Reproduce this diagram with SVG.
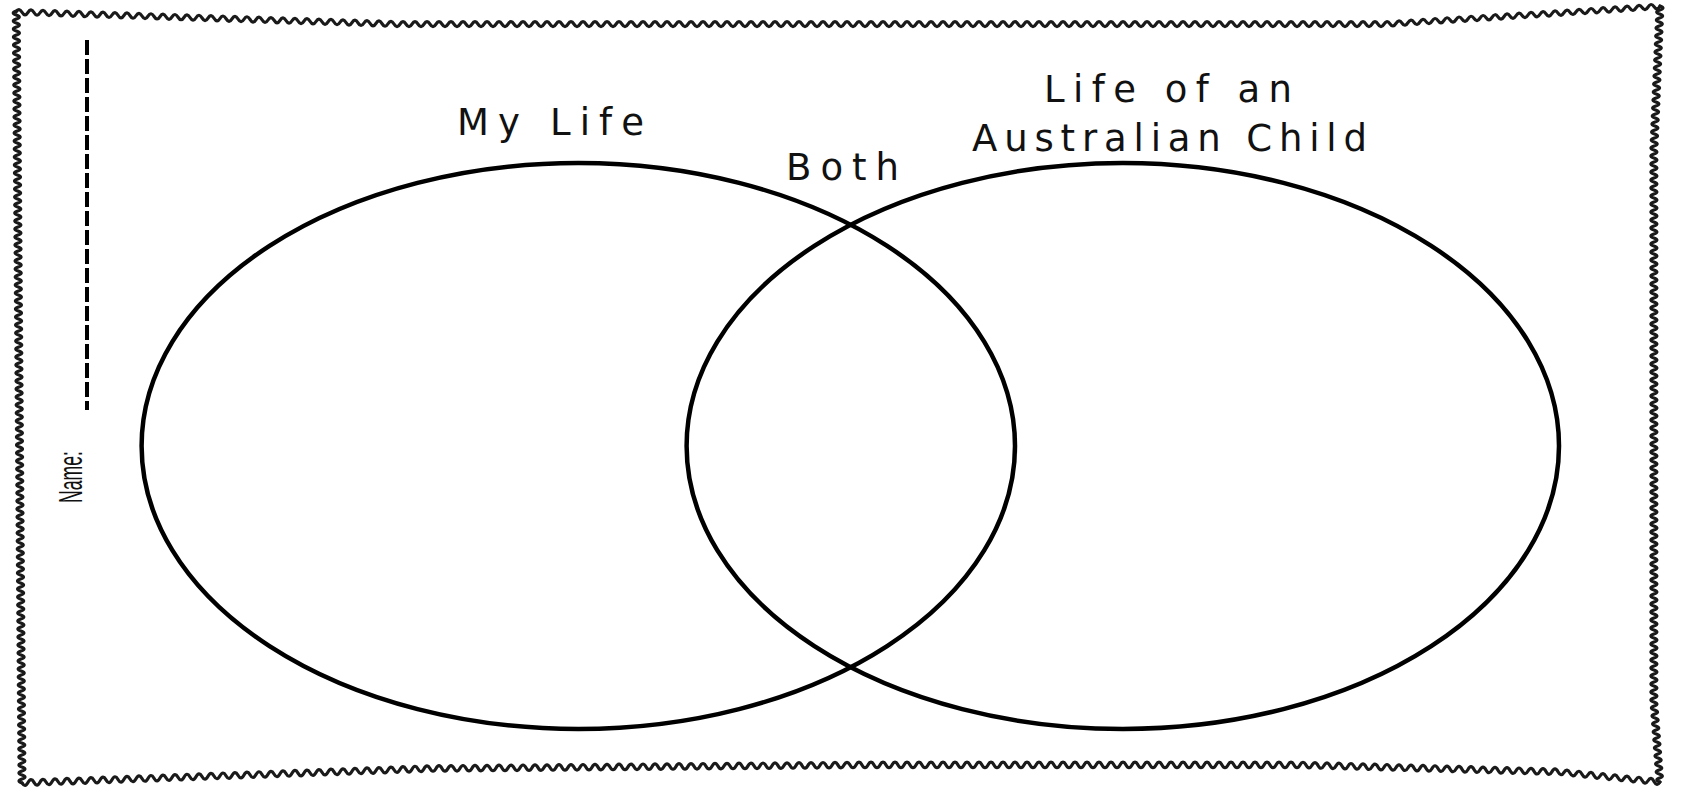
<svg xmlns="http://www.w3.org/2000/svg" width="1688" height="795" viewBox="0 0 1688 795">
<style>
.frame{fill:none;stroke:#1a1a1a;stroke-width:3.2;stroke-linejoin:round;stroke-linecap:round}
.ring{fill:none;stroke:#000;stroke-width:4.5}
.lbl{font-family:"DejaVu Sans","Noto Sans",sans-serif;font-size:37px;fill:#111}
.name{font-family:"Liberation Sans",Arial,sans-serif;font-size:34px;fill:#111}
</style>
<rect width="1688" height="795" fill="#fff"/>
<g id="frame">
<path class="frame" d="M16,12 q3,-5 6,.19 t
6,.19 6,.19 6,.19 6,.19 6,.19 6,.19 6,.19 6,.19 6,.19 6,.19
6,.19 6,.19 6,.19 6,.19 6,.19 6,.19 6,.19 6,.19 6,.19 6,.19
6,.19 6,.19 6,.19 6,.19 6,.19 6,.19 6,.19 6,.19 6,.19 6,.19
6,.19 6,.19 6,.19 6,.19 6,.19 6,.19 6,.19 6,.19 6,.19 6,.19
6,.19 6,.19 6,.19 6,.19 6,.19 6,.19 6,.19 6,.19 6,.19 6,.19
6,.19 6,.19 6,.19 6,.19 6,.19 6,.19 6,.19 6,.19 6,.19 6,.19
6,.19 6,.19 6,.19
6,0 6,0 6,0 6,0 6,0 6,0 6,0 6,0 6,0 6,0
6,0 6,0 6,0 6,0 6,0 6,0 6,0 6,0 6,0 6,0
6,0 6,0 6,0 6,0 6,0 6,0 6,0 6,0 6,0 6,0
6,0 6,0 6,0 6,0 6,0 6,0 6,0 6,0 6,0 6,0
6,0 6,0 6,0 6,0 6,0 6,0 6,0 6,0 6,0 6,0
6,0 6,0 6,0 6,0 6,0 6,0 6,0 6,0 6,0 6,0
6,0 6,0 6,0 6,0 6,0 6,0 6,0 6,0 6,0 6,0
6,0 6,0 6,0 6,0 6,0 6,0 6,0 6,0 6,0 6,0
6,0 6,0 6,0 6,0 6,0 6,0 6,0 6,0 6,0 6,0
6,0 6,0 6,0 6,0 6,0 6,0 6,0 6,0 6,0 6,0
6,0 6,0 6,0 6,0 6,0 6,0 6,0 6,0 6,0 6,0
6,0 6,0 6,0 6,0 6,0 6,0 6,0 6,0 6,0 6,0
6,0 6,0 6,0 6,0 6,0 6,0 6,0 6,0 6,0 6,0
6,0 6,0 6,0 6,0 6,0 6,0 6,0 6,0 6,0 6,0
6,0 6,0 6,0 6,0 6,0 6,0 6,0 6,0 6,0 6,0
6,0 6,0 6,0 6,0 6,0 6,0 6,0 6,0 6,0 6,0
6,0 6,0 6,0 6,0
6,-.38 6,-.38 6,-.38 6,-.38 6,-.38 6,-.38 6,-.38 6,-.38 6,-.38 6,-.38
6,-.38 6,-.38 6,-.38 6,-.38 6,-.38 6,-.38 6,-.38 6,-.38 6,-.38 6,-.38
6,-.38 6,-.38 6,-.38 6,-.38 6,-.38 6,-.38
6,-.4 6,-.4 6,-.4 6,-.4 6,-.4 6,-.4 6,-.4 6,-.4 6,-.4 6,-.4
6,-.4 6,-.4 6,-.4 6,-.4 6,-.4 6,-.4 6,-.4 6,-.4 6,-.4 6,-.4"/>
<path class="frame" d="M1660,6 q6,2 -.17,4 t
-.17,4 -.17,4 -.17,4 -.17,4 -.17,4 -.17,4 -.17,4 -.17,4 -.17,4 -.17,4
-.17,4 -.17,4 -.17,4 -.17,4 -.17,4 -.17,4 -.17,4 -.17,4 -.17,4 -.17,4
-.17,4 -.17,4 -.17,4 -.17,4 -.17,4 -.17,4 -.17,4 -.17,4 -.17,4 -.17,4
-.17,4 -.17,4 -.17,4 -.17,4 -.17,4
0,4 0,4 0,4 0,4 0,4 0,4 0,4 0,4 0,4 0,4
0,4 0,4 0,4 0,4 0,4 0,4 0,4 0,4 0,4 0,4
0,4 0,4 0,4 0,4 0,4 0,4 0,4 0,4 0,4 0,4
0,4 0,4 0,4 0,4 0,4 0,4 0,4 0,4 0,4 0,4
0,4 0,4 0,4 0,4 0,4 0,4 0,4 0,4 0,4 0,4
0,4 0,4 0,4 0,4 0,4 0,4 0,4 0,4 0,4 0,4
0,4 0,4 0,4 0,4 0,4 0,4 0,4 0,4 0,4 0,4
0,4 0,4 0,4 0,4 0,4 0,4 0,4 0,4 0,4 0,4
0,4 0,4 0,4 0,4 0,4 0,4 0,4 0,4 0,4 0,4
0,4 0,4 0,4 0,4 0,4 0,4 0,4 0,4 0,4 0,4
0,4 0,4 0,4 0,4 0,4 0,4 0,4 0,4 0,4 0,4
0,4 0,4 0,4 0,4 0,4 0,4 0,4 0,4 0,4 0,4
0,4 0,4 0,4 0,4 0,4 0,4 0,4 0,4 0,4 0,4
0,4 0,4 0,4 0,4 0,4 0,4 0,4 0,4
.3,4 .3,4 .3,4 .3,4 .3,4 .3,4 .3,4 .3,4 .3,4 .3,4
.3,4 .3,4 .3,4 .3,4 .3,4 .3,4 .3,4 .3,4 .3,4 .3,4"/>
<path class="frame" d="M1660,782 q-3,5 -6,-.6 t
-6,-.6 -6,-.6 -6,-.6 -6,-.6 -6,-.6 -6,-.6 -6,-.6 -6,-.6 -6,-.6 -6,-.6
-6,-.6 -6,-.6 -6,-.6 -6,-.6 -6,-.6 -6,-.6
-6,-.16 -6,-.16 -6,-.16 -6,-.16 -6,-.16 -6,-.16 -6,-.16 -6,-.16 -6,-.16 -6,-.16
-6,-.16 -6,-.16 -6,-.16 -6,-.16 -6,-.16 -6,-.16 -6,-.16 -6,-.16 -6,-.16 -6,-.16
-6,-.16 -6,-.16 -6,-.16 -6,-.16 -6,-.16 -6,-.16 -6,-.16 -6,-.16 -6,-.16 -6,-.16
-6,-.16 -6,-.16 -6,-.16 -6,-.16 -6,-.16 -6,-.16 -6,-.16 -6,-.16 -6,-.16 -6,-.16
-6,-.16 -6,-.16 -6,-.16
-6,0 -6,0 -6,0 -6,0 -6,0 -6,0 -6,0 -6,0 -6,0 -6,0
-6,0 -6,0 -6,0 -6,0 -6,0 -6,0 -6,0 -6,0 -6,0 -6,0
-6,0 -6,0 -6,0 -6,0 -6,0 -6,0 -6,0 -6,0 -6,0 -6,0
-6,0 -6,0 -6,0 -6,0 -6,0 -6,0 -6,0 -6,0 -6,0 -6,0
-6,0 -6,0 -6,0 -6,0 -6,0 -6,0 -6,0 -6,0 -6,0 -6,0
-6,0 -6,0 -6,0 -6,0 -6,0 -6,0 -6,0 -6,0 -6,0 -6,0
-6,0 -6,0 -6,0 -6,0 -6,0 -6,0 -6,0 -6,0 -6,0 -6,0
-6,0 -6,0 -6,0
-6,.05 -6,.05 -6,.05 -6,.05 -6,.05 -6,.05 -6,.05 -6,.05 -6,.05 -6,.05
-6,.05 -6,.05 -6,.05 -6,.05 -6,.05 -6,.05 -6,.05 -6,.05 -6,.05 -6,.05
-6,.05 -6,.05 -6,.05 -6,.05 -6,.05 -6,.05 -6,.05 -6,.05 -6,.05 -6,.05
-6,.05 -6,.05 -6,.05 -6,.05 -6,.05 -6,.05 -6,.05 -6,.05 -6,.05 -6,.05
-6,.05 -6,.05 -6,.05 -6,.05 -6,.05 -6,.05 -6,.05 -6,.05 -6,.05 -6,.05
-6,.05 -6,.05 -6,.05 -6,.05 -6,.05 -6,.05 -6,.05 -6,.05 -6,.05 -6,.05
-6,.05 -6,.05 -6,.05 -6,.05 -6,.05 -6,.05 -6,.05 -6,.05 -6,.05 -6,.05
-6,.05 -6,.05
-6,.21 -6,.21 -6,.21 -6,.21 -6,.21 -6,.21 -6,.21 -6,.21 -6,.21 -6,.21
-6,.21 -6,.21 -6,.21 -6,.21 -6,.21 -6,.21 -6,.21 -6,.21 -6,.21 -6,.21
-6,.21 -6,.21 -6,.21 -6,.21 -6,.21 -6,.21 -6,.21 -6,.21 -6,.21 -6,.21
-6,.21 -6,.21 -6,.21 -6,.21 -6,.21 -6,.21 -6,.21 -6,.21 -6,.21 -6,.21
-6,.21 -6,.21 -6,.21 -6,.21 -6,.21 -6,.21 -6,.21 -6,.21 -6,.21 -6,.21
-6,.21 -6,.21 -6,.21 -6,.21 -6,.21 -6,.21 -6,.21 -6,.21 -6,.21 -6,.21
-6,.21 -6,.21 -6,.21 -6,.21 -6,.21 -6,.21 -6,.21 -6,.21"/>
<path class="frame" d="M22,783 q-6,-2 0,-4 t
-.03,-4 -.03,-4 -.03,-4 -.03,-4 -.03,-4 -.03,-4 -.03,-4 -.03,-4 -.03,-4 -.03,-4
-.03,-4 -.03,-4 -.03,-4 -.03,-4 -.03,-4 -.03,-4 -.03,-4 -.03,-4 -.03,-4 -.03,-4
-.03,-4 -.03,-4 -.03,-4 -.03,-4 -.03,-4 -.03,-4 -.03,-4 -.03,-4 -.03,-4 -.03,-4
-.03,-4 -.03,-4 -.03,-4 -.03,-4 -.03,-4 -.03,-4 -.03,-4 -.03,-4 -.03,-4 -.03,-4
-.03,-4 -.03,-4 -.03,-4 -.03,-4 -.03,-4 -.03,-4 -.03,-4 -.03,-4 -.03,-4 -.03,-4
-.03,-4 -.03,-4 -.03,-4 -.03,-4 -.03,-4 -.03,-4 -.03,-4 -.03,-4 -.03,-4 -.03,-4
-.03,-4 -.03,-4 -.03,-4 -.03,-4 -.03,-4 -.03,-4 -.03,-4 -.03,-4 -.03,-4 -.03,-4
-.03,-4 -.03,-4 -.03,-4 -.03,-4 -.03,-4 -.03,-4 -.03,-4 -.03,-4 -.03,-4 -.03,-4
-.03,-4 -.03,-4 -.03,-4 -.03,-4 -.03,-4 -.03,-4 -.03,-4 -.03,-4 -.03,-4 -.03,-4
-.03,-4 -.03,-4 -.03,-4 -.03,-4 -.03,-4 -.03,-4 -.03,-4 -.03,-4 -.03,-4 -.03,-4
-.03,-4 -.03,-4 -.03,-4 -.03,-4 -.03,-4 -.03,-4 -.03,-4 -.03,-4 -.03,-4 -.03,-4
-.03,-4 -.03,-4 -.03,-4 -.03,-4 -.03,-4 -.03,-4 -.03,-4 -.03,-4 -.03,-4 -.03,-4
-.03,-4 -.03,-4 -.03,-4 -.03,-4 -.03,-4 -.03,-4 -.03,-4 -.03,-4 -.03,-4 -.03,-4
-.03,-4 -.03,-4 -.03,-4 -.03,-4 -.03,-4 -.03,-4 -.03,-4 -.03,-4 -.03,-4 -.03,-4
-.03,-4 -.03,-4 -.03,-4 -.03,-4 -.03,-4 -.03,-4 -.03,-4 -.03,-4 -.03,-4 -.03,-4
-.03,-4 -.03,-4 -.03,-4 -.03,-4 -.03,-4 -.03,-4 -.03,-4 -.03,-4 -.03,-4 -.03,-4
-.03,-4 -.03,-4 -.03,-4 -.03,-4 -.03,-4 -.03,-4 -.03,-4 -.03,-4 -.03,-4 -.03,-4
-.03,-4 -.03,-4 -.03,-4 -.03,-4 -.03,-4 -.03,-4 -.03,-4 -.03,-4 -.03,-4 -.03,-4
-.03,-4 -.03,-4 -.03,-4 -.03,-4 -.03,-4 -.03,-4 -.03,-4 -.03,-4 -.03,-4 -.03,-4
-.03,-4 -.03,-4"/>
</g>
<g id="name-field">
<line x1="87" y1="40" x2="87" y2="410" stroke="#000" stroke-width="4" stroke-dasharray="15 4"/>
<text class="name" transform="translate(82,503) rotate(-90)" x="0" y="0" textLength="52" lengthAdjust="spacingAndGlyphs">Name:</text>
</g>
<g id="my-life">
<ellipse class="ring" cx="578.3" cy="446" rx="436.7" ry="283"/>
<text class="lbl" x="457" y="135" textLength="187" lengthAdjust="spacing">My Life</text>
</g>
<g id="australian-child">
<ellipse class="ring" cx="1122.8" cy="446" rx="436.2" ry="283"/>
<text class="lbl" x="1044" y="102" textLength="248" lengthAdjust="spacing">Life of an</text>
<text class="lbl" x="972" y="151" textLength="395" lengthAdjust="spacing">Australian Child</text>
</g>
<g id="both">
<text class="lbl" x="786" y="180" textLength="113" lengthAdjust="spacing">Both</text>
</g>
</svg>
